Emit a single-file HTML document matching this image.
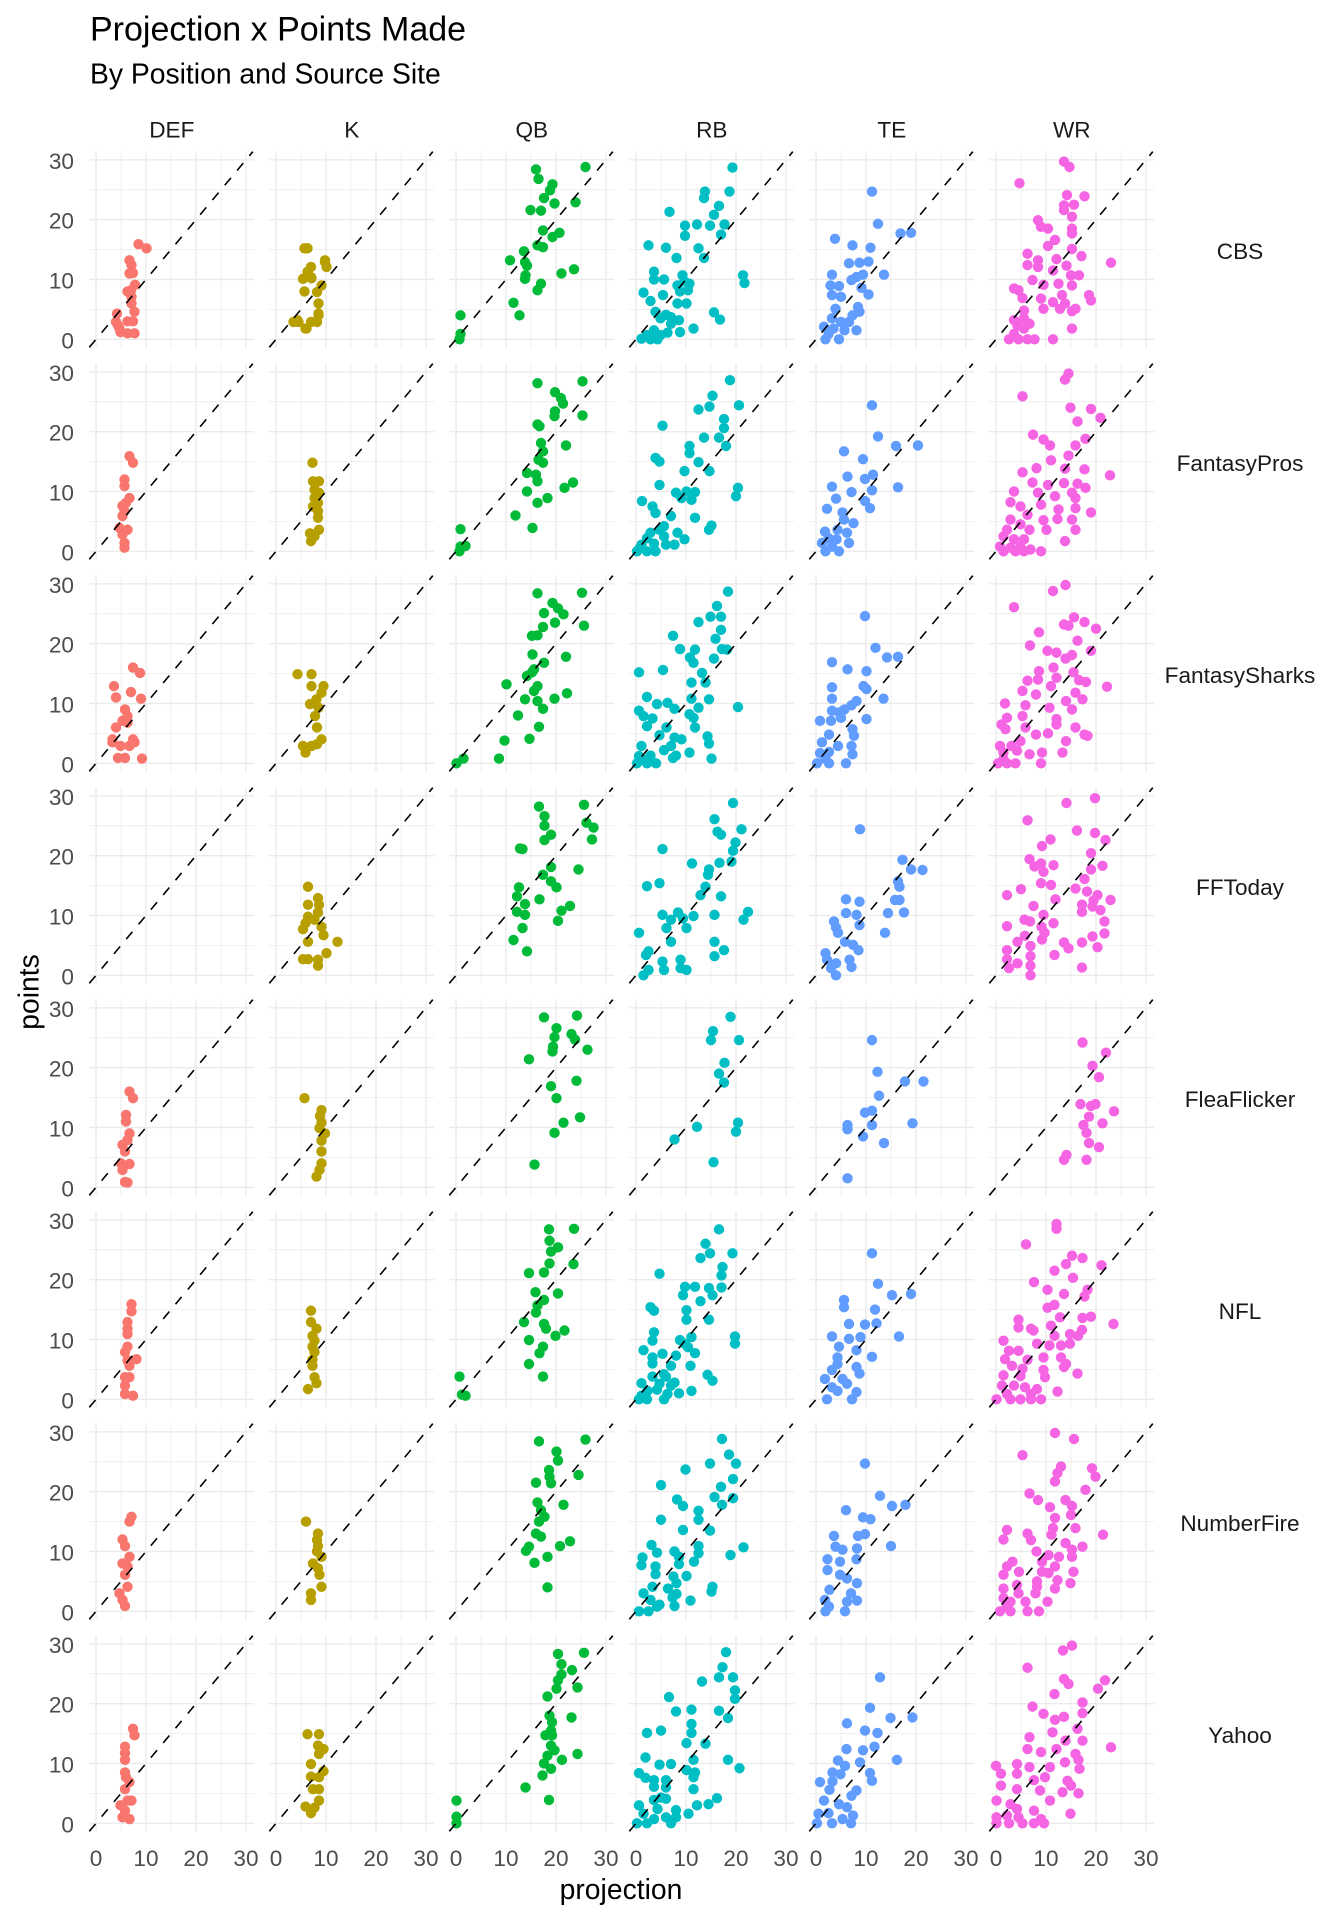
<!DOCTYPE html>
<html><head><meta charset="utf-8"><style>
html,body{margin:0;padding:0;background:#fff;}
svg{display:block;}
.p{fill:none;stroke-width:10.4;stroke-linecap:round;vector-effect:non-scaling-stroke;}
.d{stroke:#F8766D}.k{stroke:#B79F00}.q{stroke:#00BA38}.r{stroke:#00BFC4}.t{stroke:#619CFF}.w{stroke:#F564E3}
text{font-family:"Liberation Sans",Arial,sans-serif;}
.tk{font-size:22.6px;fill:#4d4d4d;}
.st{font-size:22.6px;fill:#1a1a1a;}
</style></head><body>
<svg id="s" width="1344" height="1920" viewBox="0 0 1344 1920" xmlns="http://www.w3.org/2000/svg">
<defs>
<g id="grid" fill="none" stroke="#ebebeb">
<path stroke-width="0.8" d="M25 -187.6V8.4M75 -187.6V8.4M125 -187.6V8.4M-6.7 -29.9H158.3M-6.7 -89.7H158.3M-6.7 -149.6H158.3"/>
<path stroke-width="1.4" d="M0 -187.6V8.4M50 -187.6V8.4M100 -187.6V8.4M150 -187.6V8.4M-6.7 0H158.3M-6.7 -59.83H158.3M-6.7 -119.66H158.3M-6.7 -179.49H158.3"/>
</g>
<path id="ab" d="M-6.7 8.02L156.8 -187.6" stroke="#000" stroke-width="1.6" stroke-dasharray="9.6 9.6" fill="none"/>
</defs>
<rect width="1344" height="1920" fill="#fff"/>
<text x="90" y="40.7" font-size="34" fill="#000">Projection x Points Made</text>
<text x="90" y="83.5" font-size="28.3" fill="#000">By Position and Source Site</text>
<g class="st" text-anchor="middle">
<text x="171.8" y="137.7">DEF</text><text x="351.8" y="137.7">K</text><text x="531.8" y="137.7">QB</text><text x="711.8" y="137.7">RB</text><text x="891.8" y="137.7">TE</text><text x="1071.8" y="137.7">WR</text>
<text x="1240" y="259.2">CBS</text><text x="1240" y="471.2">FantasyPros</text><text x="1240" y="683.2">FantasySharks</text><text x="1240" y="895.2">FFToday</text><text x="1240" y="1107.2">FleaFlicker</text><text x="1240" y="1319.2">NFL</text><text x="1240" y="1531.2">NumberFire</text><text x="1240" y="1743.2">Yahoo</text>
</g>
<g class="tk" text-anchor="end">
<text x="74" y="348.3">0</text><text x="74" y="288.5">10</text><text x="74" y="228.6">20</text><text x="74" y="168.8">30</text>
<text x="74" y="560.3">0</text><text x="74" y="500.5">10</text><text x="74" y="440.6">20</text><text x="74" y="380.8">30</text>
<text x="74" y="772.3">0</text><text x="74" y="712.5">10</text><text x="74" y="652.6">20</text><text x="74" y="592.8">30</text>
<text x="74" y="984.3">0</text><text x="74" y="924.5">10</text><text x="74" y="864.6">20</text><text x="74" y="804.8">30</text>
<text x="74" y="1196.3">0</text><text x="74" y="1136.5">10</text><text x="74" y="1076.6">20</text><text x="74" y="1016.8">30</text>
<text x="74" y="1408.3">0</text><text x="74" y="1348.5">10</text><text x="74" y="1288.6">20</text><text x="74" y="1228.8">30</text>
<text x="74" y="1620.3">0</text><text x="74" y="1560.5">10</text><text x="74" y="1500.6">20</text><text x="74" y="1440.8">30</text>
<text x="74" y="1832.3">0</text><text x="74" y="1772.5">10</text><text x="74" y="1712.6">20</text><text x="74" y="1652.8">30</text>
</g>
<g class="tk" text-anchor="middle">
<text x="96" y="1866">0</text><text x="146" y="1866">10</text><text x="196" y="1866">20</text><text x="246" y="1866">30</text>
<text x="276" y="1866">0</text><text x="326" y="1866">10</text><text x="376" y="1866">20</text><text x="426" y="1866">30</text>
<text x="456" y="1866">0</text><text x="506" y="1866">10</text><text x="556" y="1866">20</text><text x="606" y="1866">30</text>
<text x="636" y="1866">0</text><text x="686" y="1866">10</text><text x="736" y="1866">20</text><text x="786" y="1866">30</text>
<text x="816" y="1866">0</text><text x="866" y="1866">10</text><text x="916" y="1866">20</text><text x="966" y="1866">30</text>
<text x="996" y="1866">0</text><text x="1046" y="1866">10</text><text x="1096" y="1866">20</text><text x="1146" y="1866">30</text>
</g>
<text x="621" y="1899" font-size="28.3" text-anchor="middle" fill="#000">projection</text>
<text transform="translate(38.5,992) rotate(-90)" font-size="28.3" text-anchor="middle" fill="#000">points</text>

<!-- Row 0 CBS -->
<g transform="translate(96,339.3)"><use href="#grid"/><path class="p d" transform="scale(5,-5.983)" d="M8.5 15.9h0M10.1 15.2h0M6.7 13.2h0M7.1 12.4h0M7.4 11.1h0M6.7 11h0M7.8 9.1h0M7 8.2h0M6.3 8h0M7.1 7.1h0M7.1 6h0M4.2 4.3h0M7.7 4.6h0M7.4 3h0M6.3 3h0M4.4 2.3h0M4.9 1.2h0M6.3 1h0M7.7 1h0M4 2.9h0M4.7 1.8h0"/><use href="#ab"/></g>
<g transform="translate(276,339.3)"><use href="#grid"/><path class="p k" transform="scale(5,-5.983)" d="M5.7 15.2h0M6.3 15.2h0M7 12.1h0M9.8 13.2h0M10.1 12.1h0M6.3 11.3h0M5.4 10.1h0M7 10.4h0M9.1 9h0M5.7 8h0M8.2 7.9h0M8.5 6h0M8.5 4h0M8.2 2.9h0M4.3 3.2h0M5.9 1.8h0M7 2.9h0M4.5 2.9h0M7.1 10.2h0M9.8 12.9h0M8.5 4.3h0M6.1 1.8h0M3.5 2.9h0"/><use href="#ab"/></g>
<g transform="translate(456,339.3)"><use href="#grid"/><path class="p q" transform="scale(5,-5.983)" d="M16 28.4h0M25.9 28.8h0M16.5 26.8h0M19.3 25.9h0M18.8 24.9h0M17.6 23.6h0M19.7 22.7h0M23.9 22.9h0M14.9 21.6h0M17 21.5h0M17.4 18.2h0M20.7 17.8h0M19.3 17.1h0M16.3 15.7h0M17.4 15.4h0M13.6 14.7h0M10.8 13.2h0M13.8 12.9h0M14.2 12.3h0M13.9 10.7h0M13.8 10.1h0M21.1 11h0M23.6 11.7h0M17 9.3h0M16.3 8.2h0M11.5 6.1h0M12.7 4h0M0.9 4h0M0.9 0.9h0M0.7 0h0"/><use href="#ab"/></g>
<g transform="translate(636,339.3)"><use href="#grid"/><path class="p r" transform="scale(5,-5.983)" d="M19.3 28.7h0M13.8 24.7h0M18.7 24.7h0M13.6 23.6h0M16.6 22.3h0M15.6 20.8h0M6.7 21.3h0M9.8 19h0M12.2 19.2h0M14.8 19h0M17.7 19.2h0M9.8 17.3h0M17 17.5h0M2.5 15.7h0M6 15.3h0M12.5 15.2h0M8.1 13.6h0M13.6 13.6h0M3.6 11.3h0M3.6 10h0M5.6 10h0M9.3 10.7h0M9.7 9.7h0M8.3 9h0M10.7 9.3h0M10.4 8.2h0M8.8 8h0M21.4 10.7h0M21.7 9.4h0M1.5 7.8h0M5.4 7.4h0M2.9 6.4h0M8.3 6h0M10.1 6h0M3.9 4.6h0M6 4.1h0M7 3.7h0M4.9 3.5h0M8.6 3.2h0M15.6 4.5h0M16.8 3.3h0M7 2.6h0M11.5 1.8h0M3.6 1.5h0M6.3 1.1h0M8.8 1.2h0M1.1 0.1h0M2.9 0h0M4.3 0h0M2.2 0.7h0M4.9 0.7h0"/><use href="#ab"/></g>
<g transform="translate(816,339.3)"><use href="#grid"/><path class="p t" transform="scale(5,-5.983)" d="M11.2 24.7h0M12.4 19.3h0M16.9 17.7h0M19 17.8h0M3.8 16.8h0M7.3 15.7h0M10.9 15.3h0M6.6 12.7h0M8.7 12.8h0M10.5 13h0M3.2 10.8h0M7.1 9.9h0M8.1 10.4h0M9.4 10.8h0M13.6 10.8h0M2.9 9h0M4.6 8.9h0M9.1 8.6h0M3.2 7.4h0M5 7.1h0M10.5 7.5h0M3.9 5.1h0M8.4 5.4h0M8.7 4.6h0M7.3 4h0M3.2 3.5h0M5 2.9h0M6.6 2.9h0M1.6 2.1h0M3.5 1.8h0M5.7 1.5h0M8.1 1.5h0M1.9 0h0M4.6 0h0M2.5 0.9h0"/><use href="#ab"/></g>
<g transform="translate(996,339.3)"><use href="#grid"/><path class="p w" transform="scale(5,-5.983)" d="M13.6 29.7h0M14.7 28.8h0M4.7 26.1h0M14.2 24.1h0M17.7 23.9h0M13.6 22.4h0M15.6 22.5h0M13.6 21.6h0M15.2 20.5h0M8.4 19.9h0M9 18.8h0M10.4 18.5h0M15.2 18.5h0M15.2 17.7h0M11.8 16.6h0M10.4 15.6h0M15.2 15.1h0M6.3 14.3h0M12.1 13.4h0M8.4 13.2h0M17.1 13.9h0M23 12.8h0M6.3 12.4h0M8.4 12.1h0M14.1 12.3h0M11.4 11.5h0M7.3 9.9h0M9.5 9.1h0M12.5 9.3h0M15 10.7h0M16.6 10.7h0M15.2 9h0M3.6 8.5h0M4.5 8.2h0M5.3 6.9h0M9 6.8h0M13.2 7.4h0M18.6 7.4h0M19 6.5h0M11.4 6.2h0M13.8 6h0M9.5 5.1h0M12.8 5.1h0M15.2 4.7h0M15.9 5.1h0M5.6 4.8h0M5.6 3.5h0M3.6 3.2h0M4.3 2.3h0M5.6 1.8h0M6.7 2.6h0M15.2 1.8h0M2.6 0h0M4.5 0h0M6.3 0h0M7.7 0h0M11.4 0h0M3.6 0.9h0"/><use href="#ab"/></g>

<!-- Row 1 FantasyPros -->
<g transform="translate(96,551.3)"><use href="#grid"/><path class="p d" transform="scale(5,-5.983)" d="M6.7 15.9h0M7.4 14.8h0M5.7 12h0M5.7 10.9h0M6.7 8.9h0M6 8.1h0M5.3 7.6h0M5.7 6.7h0M5.3 5.9h0M6.3 3.6h0M5.3 2.8h0M5.7 1.4h0M5.7 0.6h0M4.7 3.9h0"/><use href="#ab"/></g>
<g transform="translate(276,551.3)"><use href="#grid"/><path class="p k" transform="scale(5,-5.983)" d="M7.3 14.8h0M7.4 11.7h0M8.6 11.7h0M7.7 10.3h0M8.6 9.8h0M7.7 8.9h0M8.4 8.1h0M7.4 7.5h0M8.4 6.7h0M8.4 5.6h0M8.6 3.6h0M6.8 3h0M7.7 2.5h0M7 1.7h0"/><use href="#ab"/></g>
<g transform="translate(456,551.3)"><use href="#grid"/><path class="p q" transform="scale(5,-5.983)" d="M16.3 28.1h0M25.3 28.4h0M19.8 26.6h0M21 25.6h0M21.4 24.7h0M19.8 23.4h0M19.7 22.6h0M25.3 22.7h0M16.3 21.2h0M16.7 20.9h0M17 18.1h0M22 17.7h0M17.4 16.7h0M17.4 14.8h0M16.5 15.3h0M14.2 13.1h0M16 12.8h0M16.3 11.7h0M23.4 11.5h0M21.7 10.6h0M14.2 10h0M18.3 8.9h0M16.3 8.1h0M11.9 6h0M15.3 3.9h0M0.9 3.7h0M1.9 0.9h0M0.7 0h0M0.9 0.8h0"/><use href="#ab"/></g>
<g transform="translate(636,551.3)"><use href="#grid"/><path class="p r" transform="scale(5,-5.983)" d="M18.8 28.6h0M15.3 26h0M14.7 24.2h0M12.5 23.7h0M20.6 24.4h0M5.3 21h0M17.6 22.1h0M17.6 20.6h0M13.6 19h0M16.6 19h0M18 17.6h0M10.7 17.6h0M10.7 16.4h0M3.9 15.6h0M4.7 15h0M12.5 14.9h0M14.7 13.4h0M9.7 13.4h0M4.7 11.1h0M20.4 10.6h0M20 9.2h0M8 9.8h0M10.1 10h0M11.8 9.9h0M9.1 8.9h0M11.1 8.6h0M1.2 8.4h0M3.3 7.5h0M3.9 6.4h0M11.8 5.6h0M7 5.9h0M2.9 3.1h0M4.7 3.6h0M5.6 4.2h0M5.6 2.5h0M8.3 3.1h0M9.7 2h0M14.6 3.6h0M15.1 4.3h0M2.2 2.2h0M1.1 1.1h0M3.6 1.3h0M6 1.1h0M7.7 1.1h0M0.2 0h0M2.2 0h0M3.9 0h0M0.8 0.6h0"/><use href="#ab"/></g>
<g transform="translate(816,551.3)"><use href="#grid"/><path class="p t" transform="scale(5,-5.983)" d="M11.2 24.4h0M12.4 19.2h0M16 17.6h0M20.4 17.7h0M5.6 16.7h0M9.4 15.4h0M6.3 12.5h0M9.8 12.1h0M11.4 12.8h0M16.4 10.7h0M11.2 10.2h0M3.2 10.8h0M7.1 9.9h0M4 8.8h0M9.8 8.4h0M2.2 7.1h0M5.3 6.5h0M10.8 7.2h0M5.6 5.3h0M7.5 4.7h0M1.8 3.3h0M4.3 3.6h0M6.2 3.1h0M2.5 2.2h0M4.1 2h0M6.6 1.4h0M1.2 1.4h0M1.9 0h0M4.6 0h0M3.2 0.8h0"/><use href="#ab"/></g>
<g transform="translate(996,551.3)"><use href="#grid"/><path class="p w" transform="scale(5,-5.983)" d="M14.5 29.7h0M13.8 28.7h0M5.3 25.9h0M14.9 24h0M19 23.8h0M20.9 22.3h0M16.3 21.7h0M7.4 19.5h0M9.5 18.7h0M10.8 17.7h0M15.9 17.7h0M17.9 18.8h0M14.5 16h0M11 15.2h0M8.1 13.9h0M13.8 13.8h0M17.7 13.7h0M22.8 12.7h0M5.3 13.2h0M7.3 11.5h0M10.4 11.1h0M13.6 11.4h0M16.3 11.3h0M17.9 10.6h0M3.6 10h0M8.4 9.8h0M11.8 9.2h0M15.2 9.8h0M15.9 8.9h0M2.9 8.2h0M4.9 7.5h0M9 7.8h0M12.5 7h0M15.9 7.2h0M19 6.5h0M6.3 6.1h0M9.5 5.2h0M12.3 5.4h0M15.2 5.3h0M2.9 5.3h0M4.9 4.5h0M2.2 3.6h0M6.7 3.6h0M10.1 3.6h0M15.9 3.6h0M1.5 2.5h0M3.6 2h0M5.6 2h0M13.8 1.7h0M0.8 0.8h0M2.9 0.6h0M4.9 0.8h0M6.9 0.3h0M9 0h0M1.5 0h0M3.9 0h0M5.6 0h0"/><use href="#ab"/></g>

<!-- Row 2 FantasySharks -->
<g transform="translate(96,763.3)"><use href="#grid"/><path class="p d" transform="scale(5,-5.983)" d="M7.4 16h0M8.8 15.1h0M3.6 12.9h0M7 11.9h0M4 11h0M9 10.8h0M5.8 9h0M6.3 7.9h0M5.3 7.1h0M6.3 6.8h0M4 6h0M3.3 4h0M7.4 4h0M4.9 2.9h0M6.7 2.9h0M4.4 0.9h0M5.8 0.9h0M9.2 0.8h0M3.3 3.5h0M7.7 3.5h0"/><use href="#ab"/></g>
<g transform="translate(276,763.3)"><use href="#grid"/><path class="p k" transform="scale(5,-5.983)" d="M4.3 14.9h0M7.1 14.9h0M7.1 12.9h0M9.5 12.9h0M9.1 11.8h0M8.1 10.7h0M6.8 9.9h0M8.5 9.3h0M7.8 7.9h0M8.2 6h0M9.1 4h0M5.4 2.9h0M7.1 2.9h0M5.9 1.8h0M8.2 3.2h0"/><use href="#ab"/></g>
<g transform="translate(456,763.3)"><use href="#grid"/><path class="p q" transform="scale(5,-5.983)" d="M16.3 28.4h0M25.2 28.5h0M19.3 26.8h0M20.4 25.9h0M21.5 24.9h0M17.6 25.1h0M19.8 23.5h0M17.4 22.8h0M25.6 23h0M16.3 21.4h0M15.2 21.3h0M15.3 18.2h0M22 17.8h0M17.6 16.8h0M15.6 15.7h0M15.2 15.2h0M14.2 14.6h0M10.1 13.2h0M16.3 12.9h0M15.6 12.1h0M22.2 11.7h0M19.7 10.8h0M13.8 10.7h0M16.3 10.4h0M17.4 9.1h0M12.4 8h0M16.6 6.1h0M9.7 3.8h0M14.7 4.1h0M8.6 0.8h0M1.5 0.8h0M0.1 0h0"/><use href="#ab"/></g>
<g transform="translate(636,763.3)"><use href="#grid"/><path class="p r" transform="scale(5,-5.983)" d="M18.4 28.7h0M16.2 26.3h0M14.9 24.5h0M17 24.5h0M12.5 23.6h0M17 22.3h0M7.4 21.3h0M15.9 20.8h0M8.8 19.1h0M11.8 19h0M17.2 19.1h0M18.2 19h0M10.8 17.7h0M11.5 16.8h0M15.6 17.5h0M0.6 15.2h0M5.4 15.6h0M13.2 15.1h0M11.1 13.5h0M13.9 13.5h0M2.2 11.1h0M11.1 10.8h0M14.6 10.7h0M4.2 9.9h0M6.3 10.1h0M7.7 9.1h0M12.5 9.3h0M20.4 9.4h0M0.6 8.8h0M1.5 7.9h0M3.3 7.5h0M10.7 8.2h0M11.5 7.6h0M2.2 6.2h0M6.1 6h0M11.8 6h0M4.7 4.7h0M7.7 4.3h0M9.1 4h0M14.3 4.5h0M14.6 3.3h0M1.1 2.9h0M7 2.9h0M5.6 2.2h0M10.7 1.8h0M0.6 1.2h0M2.9 1.3h0M7.4 0.9h0M8 1.3h0M15.1 0.8h0M0.2 0h0M2.2 0h0M4 0h0M1.5 0.6h0"/><use href="#ab"/></g>
<g transform="translate(816,763.3)"><use href="#grid"/><path class="p t" transform="scale(5,-5.983)" d="M9.8 24.6h0M11.9 19.3h0M14.2 17.7h0M16.4 17.8h0M3.2 16.9h0M6.3 15.7h0M10.1 15.4h0M9.5 12.9h0M10.1 12.4h0M3.2 12.7h0M3.2 10.8h0M13.5 10.8h0M8.1 10.4h0M7.1 9.7h0M5.7 9h0M3.2 8.8h0M4.6 8.5h0M5 7.6h0M10.1 7.4h0M0.8 7.1h0M3 7.1h0M2.6 4.8h0M7.3 5.7h0M7.6 4.6h0M1.2 3.5h0M4.4 2.9h0M7.1 2.9h0M0.8 1.7h0M2.6 1.9h0M7.3 1.5h0M0.2 0h0M2.6 0h0M6 0h0M1.9 0.7h0"/><use href="#ab"/></g>
<g transform="translate(996,763.3)"><use href="#grid"/><path class="p w" transform="scale(5,-5.983)" d="M13.9 29.8h0M11.4 28.8h0M3.6 26.1h0M15.6 24.4h0M13.6 23.2h0M14.5 23h0M17.7 23.6h0M20 22.5h0M8.6 21.9h0M16.3 20.5h0M6.8 19.7h0M10.3 18.8h0M12.1 18.5h0M13.9 17.5h0M15.2 18.1h0M19 18.8h0M11.5 16h0M8.6 15.4h0M15.5 15.2h0M6.3 13.8h0M8.4 14h0M12.1 14.3h0M16.6 13.9h0M18 13.6h0M22.2 12.8h0M5.3 12.1h0M11 12.9h0M8 11.5h0M15.9 11.8h0M17.3 10.7h0M1.8 10h0M5.9 9.7h0M10.7 9.3h0M14 10.4h0M15.2 9h0M2.2 7.6h0M5.3 7.9h0M12.1 7.4h0M1.1 6.5h0M1.9 5.7h0M5.9 6h0M12.1 6.5h0M15.9 6h0M17.7 4.8h0M18.3 4.6h0M8 4.8h0M10.4 5h0M14 3.7h0M0.8 2.9h0M3.1 2.9h0M4.9 3.7h0M1.5 1.8h0M4.2 2.1h0M6.7 1.5h0M9.2 1.8h0M13.3 1.8h0M0.4 0h0M2.2 0h0M3.9 0h0M9 0h0M1.5 0.7h0"/><use href="#ab"/></g>

<!-- Row 3 FFToday -->
<g transform="translate(96,975.3)"><use href="#grid"/><use href="#ab"/></g>
<g transform="translate(276,975.3)"><use href="#grid"/><path class="p k" transform="scale(5,-5.983)" d="M6.4 14.8h0M8.4 12.9h0M6.4 11.8h0M8.6 11.8h0M8.4 10.5h0M6.4 9.8h0M7.7 9.3h0M5.9 8.7h0M5.4 7.7h0M9.1 8.1h0M9.5 6.7h0M6.4 5.6h0M12.3 5.6h0M10.1 3.7h0M5.4 2.7h0M6.4 2.7h0M8.4 2.6h0M8.4 1.6h0"/><use href="#ab"/></g>
<g transform="translate(456,975.3)"><use href="#grid"/><path class="p q" transform="scale(5,-5.983)" d="M16.6 28.2h0M25.6 28.5h0M17.7 26.6h0M26.1 25.5h0M27.5 24.7h0M17.7 25h0M19 23.5h0M27.2 22.7h0M17.7 22.6h0M12.8 21.2h0M13.3 21.1h0M19 18.1h0M24.5 17.7h0M17.4 16.8h0M19 15.7h0M20.1 14.7h0M12.6 14.7h0M12.2 13.2h0M16.7 12.7h0M13.8 11.9h0M22.8 11.6h0M21.1 10.8h0M12.2 10.6h0M13.8 10.1h0M20.4 9.1h0M13.3 7.9h0M11.5 5.9h0M14.2 4h0"/><use href="#ab"/></g>
<g transform="translate(636,975.3)"><use href="#grid"/><path class="p r" transform="scale(5,-5.983)" d="M19.4 28.8h0M15.7 26.1h0M21.1 24.4h0M16.3 24h0M17 23.5h0M19.9 22.2h0M5.3 21.1h0M19.4 20.8h0M16.7 18.8h0M11.2 18.7h0M19.1 19h0M14.6 17.7h0M14.4 16.8h0M13.9 14.8h0M2.2 14.9h0M4.7 15.4h0M12.9 13.4h0M17 13.2h0M5.3 10.1h0M8.4 10.5h0M15.7 10.1h0M22.4 10.6h0M21.5 9.3h0M7 9.3h0M9.4 9.5h0M11.5 9.9h0M10.1 7.9h0M6.1 7.9h0M0.6 7.1h0M7 5.6h0M15.7 5.6h0M17.6 4.2h0M15.7 3.2h0M2.5 4h0M2 3.4h0M5.3 2.3h0M8.9 2.6h0M8.9 1.2h0M10.1 0.9h0M2.5 0.9h0M5.6 0.9h0M1.5 0h0"/><use href="#ab"/></g>
<g transform="translate(816,975.3)"><use href="#grid"/><path class="p t" transform="scale(5,-5.983)" d="M8.8 24.4h0M17.3 19.3h0M19 17.7h0M21.3 17.6h0M16.4 15.7h0M16.7 14.8h0M6 12.7h0M8.7 12.3h0M15.8 12.6h0M16.7 12.6h0M6 10.4h0M8.1 10.1h0M14.4 10.4h0M17.6 10.5h0M3.6 9h0M4 8h0M8.7 8.4h0M13.8 7.1h0M4.4 7.1h0M5.8 5.6h0M7.4 5.1h0M8.5 4.2h0M1.9 3.7h0M2.2 2.6h0M4 2h0M6.7 2.6h0M7.1 1.4h0M3 1.2h0M4 0h0"/><use href="#ab"/></g>
<g transform="translate(996,975.3)"><use href="#grid"/><path class="p w" transform="scale(5,-5.983)" d="M19.8 29.6h0M14.1 28.8h0M6.3 25.9h0M16.2 24.2h0M19.8 23.8h0M21.9 22.6h0M10.9 22.7h0M9.2 21.6h0M19 20.4h0M6.7 19.4h0M9 18.7h0M11.5 18.4h0M7.7 18.2h0M9.5 17.3h0M21.3 18.3h0M19 17.7h0M17.7 16.1h0M11 15.1h0M9 15.4h0M5 14.4h0M15.9 14.5h0M18.2 14h0M20.3 13.4h0M22.9 12.6h0M2.2 13.4h0M11.9 12.7h0M19.5 12.5h0M7.5 11.6h0M17.2 11.8h0M19.3 11.5h0M20.9 10.9h0M9.5 10.1h0M17.2 10.6h0M5.7 9.3h0M6.8 9h0M11.5 8.7h0M9.1 8.1h0M2.2 8.2h0M21.7 9h0M9.7 7.1h0M5.8 6.6h0M9.2 6h0M21.7 7h0M19.3 6.5h0M4.3 5.6h0M13.6 5.5h0M17.2 5.5h0M20.3 4.7h0M6.9 4.9h0M14.5 4.5h0M11.7 3.4h0M2.2 4.2h0M6.9 3.2h0M2.2 2.7h0M4.3 2h0M6.9 1.6h0M17.2 1.3h0M2.6 1.2h0M6.9 0h0"/><use href="#ab"/></g>

<!-- Row 4 FleaFlicker -->
<g transform="translate(96,1187.3)"><use href="#grid"/><path class="p d" transform="scale(5,-5.983)" d="M6.7 16h0M7.4 14.9h0M6 12.1h0M6 11h0M6.7 9h0M6.3 7.9h0M5.3 7.1h0M5.8 6h0M5 4h0M6.7 3.9h0M5.3 2.9h0M5.8 0.9h0M6.3 0.8h0"/><use href="#ab"/></g>
<g transform="translate(276,1187.3)"><use href="#grid"/><path class="p k" transform="scale(5,-5.983)" d="M5.7 14.9h0M9.1 12.9h0M8.8 11.9h0M9.1 10.8h0M8.7 9.9h0M9.8 9h0M9.1 7.8h0M9.1 6h0M9.1 4h0M8.7 2.9h0M8.1 1.8h0"/><use href="#ab"/></g>
<g transform="translate(456,1187.3)"><use href="#grid"/><path class="p q" transform="scale(5,-5.983)" d="M17.6 28.4h0M24.2 28.7h0M20.1 26.6h0M23.1 25.6h0M23.8 24.7h0M19.7 25.1h0M19.4 23.5h0M19.3 22.7h0M26.3 23h0M14.6 21.4h0M24.1 17.8h0M19 16.9h0M20.1 14.9h0M24.8 11.7h0M21.5 10.8h0M19.7 9.1h0M15.7 3.8h0"/><use href="#ab"/></g>
<g transform="translate(636,1187.3)"><use href="#grid"/><path class="p r" transform="scale(5,-5.983)" d="M18.9 28.5h0M15.4 26.1h0M15 24.6h0M20.6 24.6h0M17.7 20.8h0M16.6 19h0M17.6 17.5h0M12.2 10.1h0M20.4 10.8h0M20 9.3h0M7.7 8h0M15.5 4.2h0"/><use href="#ab"/></g>
<g transform="translate(816,1187.3)"><use href="#grid"/><path class="p t" transform="scale(5,-5.983)" d="M11.2 24.6h0M12.3 19.3h0M17.8 17.7h0M21.5 17.7h0M12.6 15.3h0M9.8 12.5h0M11.2 12.8h0M6.3 10.4h0M6.3 9.7h0M11.2 10.4h0M19.3 10.7h0M9.4 8.5h0M13.6 7.4h0M6.3 1.5h0"/><use href="#ab"/></g>
<g transform="translate(996,1187.3)"><use href="#grid"/><path class="p w" transform="scale(5,-5.983)" d="M17.3 24.2h0M22 22.5h0M19.3 20.3h0M20.6 18.4h0M16.9 13.9h0M19 13.6h0M19.9 13.9h0M23.6 12.7h0M18.6 11.8h0M21.3 10.7h0M17.5 10.4h0M18.1 9.1h0M18.6 7.4h0M20.6 6.7h0M14.1 5.4h0M13.6 4.6h0M18.1 4.6h0"/><use href="#ab"/></g>

<!-- Row 5 NFL -->
<g transform="translate(96,1399.3)"><use href="#grid"/><path class="p d" transform="scale(5,-5.983)" d="M7.1 15.9h0M7.1 14.7h0M6.3 12.9h0M6.3 11.8h0M6.3 10.9h0M6.3 8.8h0M5.8 7.9h0M8.1 6.7h0M6.3 6.5h0M6.7 5.6h0M5.8 3.7h0M6.7 3.7h0M5.8 2.3h0M5.8 0.9h0M7.4 0.6h0"/><use href="#ab"/></g>
<g transform="translate(276,1399.3)"><use href="#grid"/><path class="p k" transform="scale(5,-5.983)" d="M7 14.8h0M7 12.9h0M8.1 11.8h0M7.3 10.6h0M7.7 9.8h0M7.3 8.8h0M7.7 7.9h0M7.3 6.6h0M7.3 5.6h0M7.7 3.7h0M8.1 2.7h0M6.4 1.7h0"/><use href="#ab"/></g>
<g transform="translate(456,1399.3)"><use href="#grid"/><path class="p q" transform="scale(5,-5.983)" d="M18.6 28.4h0M23.6 28.5h0M18.7 26.5h0M20.4 25.4h0M19 24.7h0M18.7 22.7h0M23.5 22.6h0M14.6 21.1h0M17.6 21.2h0M15.9 17.9h0M20.4 17.7h0M17.6 16.6h0M16.3 15.7h0M16 14.5h0M13.6 12.9h0M17.6 12.6h0M18 11.8h0M21.7 11.5h0M19.9 10.6h0M14.6 9.9h0M17.4 8.8h0M16.7 7.7h0M14.6 5.9h0M17.4 3.8h0M0.7 3.8h0M1.2 0.8h0M1.9 0.6h0"/><use href="#ab"/></g>
<g transform="translate(636,1399.3)"><use href="#grid"/><path class="p r" transform="scale(5,-5.983)" d="M16.6 28.4h0M13.9 26h0M14.8 24.4h0M19.3 24.4h0M12.9 23.6h0M17.3 22.1h0M17.1 20.7h0M4.7 21h0M9.8 18.8h0M11.8 18.8h0M14.6 18.6h0M17.1 18.7h0M9.4 17.4h0M15.3 17.4h0M12.9 16.4h0M2.9 15.4h0M3.6 14.8h0M10.1 14.9h0M10.1 13.3h0M14.6 13.3h0M3.6 11.2h0M3.3 9.8h0M19.8 10.5h0M19.8 9.3h0M8.8 9.9h0M11.1 10.4h0M9.7 9.3h0M10.4 8.7h0M1.5 8.2h0M5.3 7.6h0M11.8 7.7h0M8 7.3h0M3.3 7h0M3.3 6h0M7 5.6h0M10.9 5.6h0M5.6 4.2h0M3.3 3.8h0M6 3.8h0M14.3 4.1h0M15.3 3.1h0M1.1 2.7h0M4.7 2.6h0M7 2.3h0M7.7 2.8h0M2.3 1.4h0M4.2 1.6h0M6.3 0.9h0M8.6 1h0M11.1 1.4h0M0.6 0h0M2.2 0h0M5.6 0h0M1.1 0.6h0"/><use href="#ab"/></g>
<g transform="translate(816,1399.3)"><use href="#grid"/><path class="p t" transform="scale(5,-5.983)" d="M11.2 24.4h0M12.4 19.3h0M15.2 17.4h0M19 17.6h0M5.6 16.6h0M5.6 15.4h0M11.8 15h0M6.6 12.6h0M9.8 12.5h0M12.1 12.7h0M3.2 10.5h0M6.6 10.1h0M8.9 10.4h0M16.6 10.5h0M4.6 8.8h0M8.1 8.2h0M4.3 7h0M11.2 7.1h0M4.3 5.9h0M8.1 5.4h0M8.7 4.3h0M3.2 4.9h0M1.8 3.4h0M5.3 3.4h0M3.2 2h0M6.2 2.6h0M8.1 1.2h0M4.3 1.4h0M2.2 0h0M7.2 0h0"/><use href="#ab"/></g>
<g transform="translate(996,1399.3)"><use href="#grid"/><path class="p w" transform="scale(5,-5.983)" d="M12.1 29.3h0M12.1 28.5h0M6 25.9h0M15.2 24h0M17.3 23.6h0M14 22.6h0M21.1 22.4h0M11.7 21.5h0M15.4 20.3h0M7.6 19.6h0M10.3 18.3h0M18.3 18.3h0M13.6 17.6h0M17.7 17.2h0M11.7 15.8h0M10.3 15.3h0M4.5 13.3h0M7 11.8h0M4.5 12h0M11 12.3h0M12.8 13.7h0M17.3 13.6h0M19 13.8h0M23.5 12.6h0M7.5 11.5h0M17.2 11.6h0M11.7 10.6h0M14.8 10.9h0M16.4 10.6h0M1.5 9.8h0M8.2 9.3h0M10.7 9h0M13 9h0M14.8 9.3h0M2.6 8.1h0M4.5 8.1h0M9.5 7h0M1.8 6.7h0M6.3 6.6h0M13 7h0M14 5.9h0M3.2 5.6h0M5.3 5.1h0M9.5 4.9h0M13.6 5.4h0M16.3 4.3h0M1.5 4h0M4.9 3.9h0M9.8 3.7h0M1.2 2.3h0M3.6 2.3h0M5.8 2h0M8.2 1.7h0M12.3 1.3h0M2.2 0.9h0M7 0.9h0M0.1 0h0M2.9 0h0M4.9 0h0M7 0h0M9 0h0"/><use href="#ab"/></g>

<!-- Row 6 NumberFire -->
<g transform="translate(96,1611.3)"><use href="#grid"/><path class="p d" transform="scale(5,-5.983)" d="M7.1 15.8h0M6.7 15h0M5.3 12h0M5.8 10.9h0M6.7 9.1h0M5.3 8h0M6.3 7.5h0M5.8 6.1h0M6.3 4.1h0M4.7 3h0M5.3 1.9h0M5.8 0.9h0"/><use href="#ab"/></g>
<g transform="translate(276,1611.3)"><use href="#grid"/><path class="p k" transform="scale(5,-5.983)" d="M6 15h0M8.4 13h0M8.2 11.9h0M8.4 10.9h0M8.2 10h0M9.1 9.1h0M7.4 8h0M8.4 7.2h0M8.7 6.1h0M9.1 4.1h0M7 3h0M7 1.9h0"/><use href="#ab"/></g>
<g transform="translate(456,1611.3)"><use href="#grid"/><path class="p q" transform="scale(5,-5.983)" d="M16.6 28.4h0M25.9 28.7h0M20.1 26.7h0M20.4 25.2h0M18.6 23.6h0M24.5 22.8h0M18.7 22.5h0M16 21.5h0M19 21.4h0M16.3 18.2h0M21.5 17.8h0M17 16.9h0M17.7 15.8h0M16.6 15h0M16 13h0M17 12.5h0M22.8 11.7h0M20.8 10.9h0M14.6 10.8h0M14 10.1h0M18.3 9.1h0M15.7 8.1h0M18.3 4h0"/><use href="#ab"/></g>
<g transform="translate(636,1611.3)"><use href="#grid"/><path class="p r" transform="scale(5,-5.983)" d="M17.2 28.8h0M18.6 26.2h0M20 24.7h0M14.8 24.7h0M9.9 23.7h0M19.4 22.1h0M5 21.1h0M17 20.8h0M15.7 19.1h0M19.4 18.9h0M8.2 18.7h0M9.4 17.6h0M17.2 17.8h0M12.5 16.8h0M12.5 15.3h0M5 15.3h0M9.4 13.6h0M14.8 13.5h0M3.1 11.1h0M7.7 10h0M12.5 10.9h0M12.5 9.7h0M21.5 10.7h0M18.9 9.4h0M4.2 9.8h0M1.3 9h0M1.1 7.7h0M8.6 9.1h0M11.6 8.3h0M8.6 7.9h0M3.9 7.5h0M3.9 6.2h0M7.5 5.8h0M10.1 5.9h0M8.1 4.7h0M6.4 3.8h0M3.3 4.1h0M1.5 3h0M8.1 2.9h0M15.3 4.1h0M15.1 3.3h0M7.3 2.3h0M10.9 1.8h0M2.9 1.9h0M4.7 1.1h0M7.7 0.9h0M0.6 0h0M2.5 0h0M4.2 0.8h0"/><use href="#ab"/></g>
<g transform="translate(816,1611.3)"><use href="#grid"/><path class="p t" transform="scale(5,-5.983)" d="M9.8 24.7h0M12.8 19.3h0M15.2 17.6h0M17.9 17.8h0M6 16.9h0M9.4 15.7h0M10.9 15.4h0M3.6 12.6h0M8.4 12.6h0M9.8 12.9h0M15 10.9h0M3.9 10.8h0M5.3 10.3h0M8.2 10.5h0M2.3 8.7h0M4.8 8.3h0M8.1 8.7h0M2.3 6.9h0M4.8 6.1h0M6.2 5.5h0M8.2 4.7h0M2.7 3.6h0M7 3h0M1.8 1.9h0M6.2 1.6h0M8.2 1.8h0M1.9 0h0M5.8 0h0M2.6 0.8h0"/><use href="#ab"/></g>
<g transform="translate(996,1611.3)"><use href="#grid"/><path class="p w" transform="scale(5,-5.983)" d="M11.8 29.8h0M15.6 28.8h0M5.3 26.1h0M13 24.2h0M19.2 23.9h0M12.3 23.1h0M19.9 22.5h0M11.8 21.7h0M17.9 20.3h0M6.7 19.7h0M8.4 18.6h0M13.9 18.6h0M10.8 17.4h0M15.2 17.6h0M11.8 15.6h0M15 16.1h0M15.9 13.9h0M21.4 12.8h0M2.2 13.6h0M6.3 13h0M11.4 13.9h0M1.5 12h0M7 11.9h0M11.1 12.8h0M13.9 11.4h0M17.3 10.8h0M15.2 10.3h0M8.1 10h0M10.5 9.4h0M12.6 9.1h0M3.3 8.3h0M9.2 8.3h0M15.2 9.1h0M2.2 7.5h0M11.8 7.5h0M4.6 6.6h0M9.2 6.6h0M15.5 6.6h0M1.5 6.1h0M10.5 6.4h0M12.3 5.2h0M8.2 5h0M14.9 4.7h0M4.2 4.4h0M1.5 3.8h0M8.2 4.1h0M11.8 3.8h0M4.5 3h0M7.9 3h0M1.5 2.2h0M2.9 1.6h0M5.9 1.6h0M10.3 1.6h0M0.8 0h0M2.9 0h0M6.3 0h0M8.6 0h0M2.2 0.8h0"/><use href="#ab"/></g>

<!-- Row 7 Yahoo -->
<g transform="translate(96,1823.3)"><use href="#grid"/><path class="p d" transform="scale(5,-5.983)" d="M7.4 15.8h0M7.7 14.7h0M5.8 12.8h0M5.8 11.7h0M5.8 10.6h0M5.8 8.5h0M6 7.7h0M6.7 6.9h0M5.8 5.7h0M6.3 3.8h0M4.9 3h0M5.8 2.1h0M5.3 1h0M6.7 0.7h0M7.1 3.8h0"/><use href="#ab"/></g>
<g transform="translate(276,1823.3)"><use href="#grid"/><path class="p k" transform="scale(5,-5.983)" d="M6.3 14.9h0M8.6 14.9h0M8.4 13h0M9.5 12.4h0M8.6 11.6h0M7 9.9h0M9.5 8.7h0M7 7.8h0M8.6 7.7h0M7.4 5.7h0M8.6 5.7h0M8.6 3.8h0M5.9 2.8h0M7.7 2.6h0M7 1.7h0"/><use href="#ab"/></g>
<g transform="translate(456,1823.3)"><use href="#grid"/><path class="p q" transform="scale(5,-5.983)" d="M20.4 28.3h0M25.6 28.5h0M21.1 26.6h0M23.2 25.6h0M21.1 24.9h0M20.4 23.9h0M24.3 22.7h0M20.1 22.5h0M18.3 21.2h0M18.7 18h0M23.1 17.7h0M19.2 16.9h0M19 15.5h0M17.9 14.7h0M19.2 14.7h0M19 13h0M19.7 12.2h0M18.3 11.3h0M24.3 11.6h0M21.2 10.6h0M17.6 10h0M19 9.1h0M17.3 8h0M13.9 6h0M18.6 3.9h0M0.1 3.8h0M0.1 1.1h0M0.1 0h0"/><use href="#ab"/></g>
<g transform="translate(636,1823.3)"><use href="#grid"/><path class="p r" transform="scale(5,-5.983)" d="M18 28.6h0M17.3 26.1h0M19.4 24.4h0M16.6 24.4h0M13.2 23.7h0M19.8 22.2h0M6.6 21.1h0M19.8 20.8h0M8 18.7h0M11.1 19h0M16.6 18.8h0M18.4 17.6h0M11.1 16.6h0M5 15.5h0M2.2 15.1h0M11.1 15.1h0M10.1 13.4h0M13.9 13.3h0M1.9 11h0M4.7 9.8h0M7 9.9h0M11.5 10.6h0M18.4 10.6h0M20.7 9.2h0M10.1 8.9h0M11.8 8.5h0M0.6 8.4h0M1.9 7.6h0M3.6 7.2h0M6 7.2h0M11.5 7.7h0M3.6 6.1h0M6 6h0M11.5 5.7h0M5 4.3h0M3.6 3.9h0M6 4.1h0M16.2 4.2h0M14.5 3.2h0M12.2 3h0M0.6 3h0M4.3 2.4h0M8 2.2h0M10.5 1.6h0M1.5 1.6h0M6 1h0M8 1h0M0.2 0h0M2.2 0h0M7 0h0M3.6 0.7h0"/><use href="#ab"/></g>
<g transform="translate(816,1823.3)"><use href="#grid"/><path class="p t" transform="scale(5,-5.983)" d="M12.8 24.4h0M10.8 19.3h0M14.9 17.6h0M19.3 17.7h0M6.2 16.7h0M9.8 15.5h0M12.3 15.1h0M11.7 12.8h0M9.4 12.2h0M6.1 12.4h0M16.2 10.6h0M4.4 10.5h0M5.8 9.6h0M8.8 10.2h0M3.3 8.5h0M4.9 8.2h0M10.8 8.4h0M11.2 7.1h0M0.8 6.9h0M3.3 7h0M8.1 5.5h0M7.1 4.6h0M2.7 5.6h0M1.6 3.8h0M4.6 3.2h0M6.2 2.7h0M0.5 1.6h0M2.5 1.7h0M7.4 1.3h0M0.2 0h0M3.2 0h0M7 0h0M5.3 0.7h0"/><use href="#ab"/></g>
<g transform="translate(996,1823.3)"><use href="#grid"/><path class="p w" transform="scale(5,-5.983)" d="M15.2 29.7h0M13.4 28.9h0M6.3 26h0M13.6 24.1h0M14.5 23.3h0M21.8 23.9h0M20.4 22.5h0M11.7 21.6h0M17.3 20.2h0M7.3 19.5h0M9.5 18.3h0M13.6 17.8h0M17.3 18.4h0M11.8 17.3h0M16.3 15.8h0M11.3 15.2h0M6.7 14.4h0M13.9 13.8h0M17.3 13.8h0M23 12.7h0M6.3 12.4h0M9 11.9h0M12.1 12.4h0M15.9 11.6h0M4.2 9.9h0M6.7 9.4h0M10.8 9.4h0M13.8 10.2h0M16.5 10.6h0M16.7 9.1h0M0 9.6h0M1 8.3h0M4.2 8.3h0M7.6 7.2h0M9.8 7.7h0M14.3 7.1h0M15 6.3h0M1 6.3h0M4.2 5.7h0M8.8 5.5h0M13.3 5.2h0M16.5 5h0M10.8 3.8h0M0.1 3.8h0M2.9 3.2h0M4.2 2.4h0M7.6 2.1h0M14.9 1.6h0M0.1 1h0M2.2 1.3h0M4.5 1h0M9 0.7h0M0.1 0h0M2.6 0h0M5.3 0h0M7.6 0h0M9.6 0h0"/><use href="#ab"/></g>
</svg>
</body></html>
